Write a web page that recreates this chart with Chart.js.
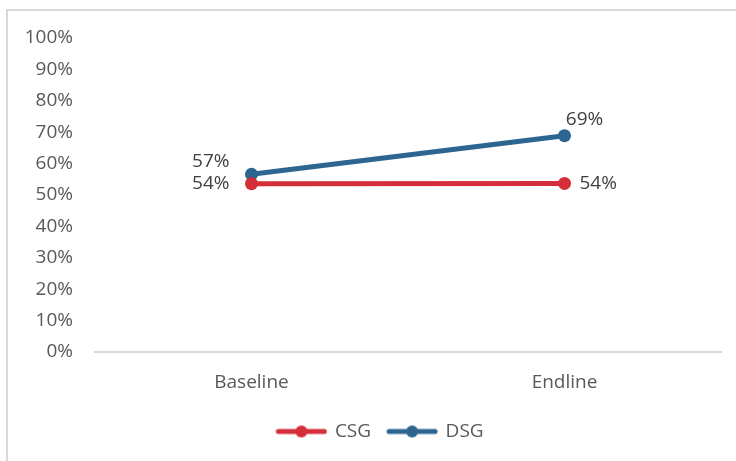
<!DOCTYPE html>
<html>
<head>
<meta charset="utf-8">
<script src="https://cdn.jsdelivr.net/npm/chart.js@4"></script>
<style>
  html, body { margin: 0; padding: 0; background: #fff; }
  #wrap { position: relative; width: 736px; height: 461px; }
  #frame { position: absolute; left: 6px; top: 9px; right: 0; bottom: 0;
           border-top: 2px solid #d9d9d9; border-left: 2px solid #d9d9d9; }
  #chart { position: absolute; left: 0; top: 0; }
</style>
</head>
<body>
<div id="wrap">
  <div id="frame"></div>
  <canvas id="chart" width="736" height="461"></canvas>
</div>
<script>
// values
const categories = ['Baseline', 'Endline'];
const csgValues = [53.6, 53.7];
const dsgValues = [56.6, 68.9];
const yTicks = [0, 10, 20, 30, 40, 50, 60, 70, 80, 90, 100];

const RED = '#d42e3a';
const BLUE = '#2c6690';
const FONT = "'Open Sans', sans-serif";

// small line + dot sample used as the legend marker
function legendMarker(color) {
  const c = document.createElement('canvas');
  c.width = 52;
  c.height = 14;
  const g = c.getContext('2d');
  g.strokeStyle = color;
  g.lineWidth = 5;
  g.lineCap = 'round';
  g.beginPath();
  g.moveTo(3, 7);
  g.lineTo(49, 7);
  g.stroke();
  g.fillStyle = color;
  g.beginPath();
  g.arc(26, 7, 6, 0, Math.PI * 2);
  g.fill();
  return c;
}

// draws the percent labels next to each point
const pointLabels = {
  id: 'pointLabels',
  afterDatasetsDraw(chart) {
    const ctx = chart.ctx;
    ctx.save();
    ctx.font = '19px ' + FONT;
    ctx.fillStyle = '#404040';
    ctx.textBaseline = 'middle';
    chart.data.datasets.forEach((ds, di) => {
      const meta = chart.getDatasetMeta(di);
      meta.data.forEach((pt, i) => {
        const pos = ds.labelPos[i];
        ctx.textAlign = pos.align;
        ctx.fillText(Math.round(ds.data[i]) + '%', pt.x + pos.dx, pt.y + pos.dy);
      });
    });
    ctx.restore();
  }
};

// legend sits a little right of the canvas centre, under the plot
const legendShift = {
  id: 'legendShift',
  afterLayout(chart) {
    chart.legend.left += 20;
    chart.legend.right += 20;
  }
};

const ctx = document.getElementById('chart').getContext('2d');
new Chart(ctx, {
  type: 'line',
  data: {
    labels: categories,
    datasets: [{
      label: 'CSG',
      data: csgValues,
      borderColor: RED,
      backgroundColor: RED,
      borderWidth: 5,
      pointRadius: 6.5,
      pointBackgroundColor: RED,
      pointBorderWidth: 0,
      labelPos: [{ align: 'right', dx: -22, dy: 0 }, { align: 'left', dx: 15, dy: 0 }]
    }, {
      label: 'DSG',
      data: dsgValues,
      borderColor: BLUE,
      backgroundColor: BLUE,
      borderWidth: 5,
      pointRadius: 6.5,
      pointBackgroundColor: BLUE,
      pointBorderWidth: 0,
      labelPos: [{ align: 'right', dx: -22, dy: -13 }, { align: 'center', dx: 20, dy: -16 }]
    }]
  },
  options: {
    responsive: false,
    animation: false,
    layout: { padding: { left: 0, right: 15, top: 38, bottom: 10 } },
    scales: {
      x: {
        offset: true,
        grid: { display: false, drawTicks: false },
        border: { display: true, color: '#d9d9d9', width: 2 },
        ticks: { color: '#595959', font: { family: FONT, size: 19 }, padding: 19 },
        afterFit: s => { s.height = 53; }
      },
      y: {
        min: 0,
        max: 100,
        afterBuildTicks: s => { s.ticks = yTicks.map(v => ({ value: v })); },
        grid: { display: false, drawTicks: false },
        border: { display: false },
        ticks: {
          color: '#595959',
          font: { family: FONT, size: 19 },
          padding: 22,
          callback: v => v + '%'
        },
        afterFit: s => { s.width = 95; }
      }
    },
    plugins: {
      tooltip: { enabled: false },
      legend: {
        position: 'bottom',
        labels: {
          usePointStyle: true,
          pointStyleWidth: 48,
          boxHeight: 14,
          padding: 17,
          color: '#595959',
          font: { family: FONT, size: 19 },
          generateLabels: chart => chart.data.datasets.map((ds, i) => ({
            text: ds.label,
            pointStyle: legendMarker(ds.borderColor),
            fillStyle: ds.borderColor,
            strokeStyle: ds.borderColor,
            lineWidth: 0,
            fontColor: '#595959',
            datasetIndex: i
          }))
        }
      }
    }
  },
  plugins: [pointLabels, legendShift]
});
</script>
</body>
</html>
